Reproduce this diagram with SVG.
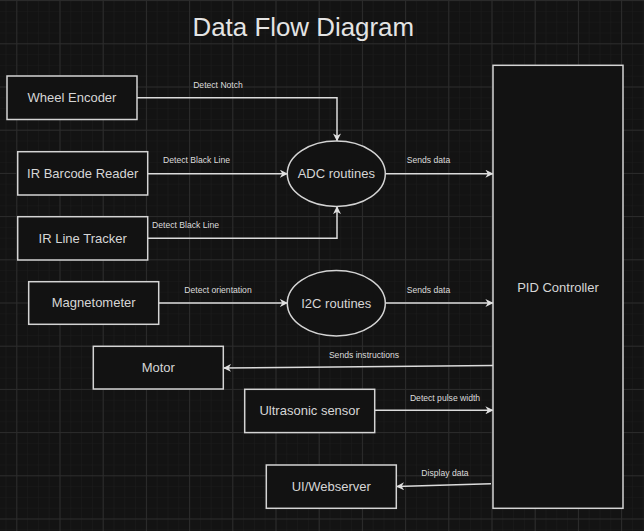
<svg xmlns="http://www.w3.org/2000/svg" width="644" height="531" viewBox="0 0 644 531">
<defs>
<pattern id="minor" x="16.3" y="0.1" width="10.8" height="10.8" patternUnits="userSpaceOnUse">
<path d="M0,0 H10.8 M0,0 V10.8" stroke="#1c1c1c" stroke-width="1" fill="none"/>
</pattern>
<pattern id="major" x="16.3" y="0.1" width="43.2" height="43.2" patternUnits="userSpaceOnUse">
<path d="M0.5,0 V43.2 M0,0.5 H43.2" stroke="#2c2c2c" stroke-width="1" fill="none"/>
</pattern>
<marker id="arr" viewBox="0 0 10 10" refX="9.5" refY="5" markerWidth="8" markerHeight="8" markerUnits="userSpaceOnUse" orient="auto">
<path d="M0,0 L10,5 L0,10 L3,5 z" fill="#e0e0e0"/>
</marker>
</defs>
<style>
.node{fill:#121212;stroke:#d4d4d4;stroke-width:1.5}
.t{font-family:"Liberation Sans",Arial,sans-serif;font-size:13px;fill:#d6d6d6;text-anchor:middle}
.lbl{font-family:"Liberation Sans",Arial,sans-serif;font-size:8.6px;fill:#dcdcdc;text-anchor:middle}
.e{fill:none;stroke:#dcdcdc;stroke-width:1.5;marker-end:url(#arr)}
</style>
<rect width="644" height="531" fill="#131313"/>
<rect width="644" height="531" fill="url(#minor)"/>
<rect width="644" height="531" fill="url(#major)"/>
<text x="303.3" y="35.5" style="font-family:'Liberation Sans',Arial,sans-serif;font-size:25.9px;fill:#e4e4e4;text-anchor:middle">Data Flow Diagram</text>
<g id="connectors">
<path class="e" d="M137,97.7 H337 V141"/>
<text class="lbl" x="218" y="88">Detect Notch</text>
<path class="e" d="M148,173.7 H287.5"/>
<text class="lbl" x="196.5" y="162.5">Detect Black Line</text>
<path class="e" d="M148,238.3 H337 V206.5"/>
<text class="lbl" x="185.5" y="227.5">Detect Black Line</text>
<path class="e" d="M385.5,173.7 H493"/>
<text class="lbl" x="428.5" y="162.5">Sends data</text>
<path class="e" d="M158.5,303 H287.5"/>
<text class="lbl" x="218" y="292.8">Detect orientation</text>
<path class="e" d="M385.5,303 H493"/>
<text class="lbl" x="428.5" y="292.5">Sends data</text>
<path class="e" d="M493,365.5 L223.5,368"/>
<text class="lbl" x="364" y="357.5">Sends instructions</text>
<path class="e" d="M374.7,410.3 H493"/>
<text class="lbl" x="445" y="400.5">Detect pulse width</text>
<path class="e" d="M491,483.8 L396.5,486.5"/>
<text class="lbl" x="445" y="475.8">Display data</text>
</g>
<g id="wheel-encoder"><rect class="node" x="7" y="76" width="130" height="43.5"/><text class="t" x="72" y="102">Wheel Encoder</text></g>
<g id="ir-barcode"><rect class="node" x="17.7" y="151.7" width="130" height="43.3"/><text class="t" x="82.7" y="178">IR Barcode Reader</text></g>
<g id="ir-line"><rect class="node" x="17.7" y="216.7" width="130" height="43.3"/><text class="t" x="82.7" y="242.7">IR Line Tracker</text></g>
<g id="adc"><ellipse class="node" cx="336.3" cy="173.7" rx="49" ry="32.7"/><text class="t" x="336.3" y="178">ADC routines</text></g>
<g id="i2c"><ellipse class="node" cx="336.3" cy="303.3" rx="49" ry="32.7"/><text class="t" x="336.3" y="307.7">I2C routines</text></g>
<g id="magnetometer"><rect class="node" x="28.7" y="281.7" width="130" height="42.6"/><text class="t" x="93.7" y="307.2">Magnetometer</text></g>
<g id="motor"><rect class="node" x="93.3" y="346.3" width="130" height="42.7"/><text class="t" x="158.3" y="372">Motor</text></g>
<g id="ultrasonic"><rect class="node" x="244.7" y="389.3" width="130" height="43.3"/><text class="t" x="309.7" y="415.2">Ultrasonic sensor</text></g>
<g id="ui"><rect class="node" x="266.3" y="465" width="130" height="43.3"/><text class="t" x="331.3" y="491">UI/Webserver</text></g>
<g id="pid"><rect class="node" x="493" y="65.3" width="130" height="443"/><text class="t" x="558" y="291.7">PID Controller</text></g>
</svg>
